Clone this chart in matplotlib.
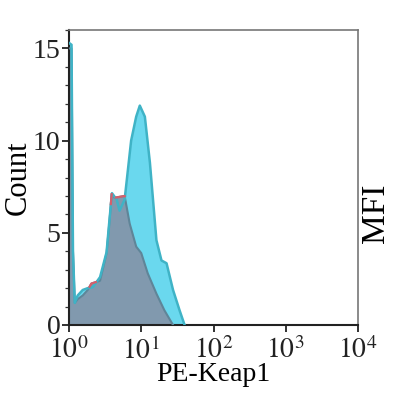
import numpy as np
import matplotlib
matplotlib.use("Agg")
import matplotlib.pyplot as plt
from matplotlib.ticker import LogLocator, NullFormatter, MultipleLocator

# Data (log10 of PE-Keap1 intensity, count)
keap_logx = [0.0, 0.035, 0.055, 0.08, 0.12, 0.19, 0.26, 0.33, 0.43, 0.52, 0.56, 0.595, 0.66, 0.70, 0.77,
             0.86, 0.93, 0.98, 1.05, 1.12, 1.21, 1.28, 1.35, 1.44, 1.53, 1.60]
keap_count = [15.3, 15.2, 4.0, 1.2, 1.6, 1.9, 2.0, 2.05, 2.6, 3.95, 5.7, 7.15, 6.8, 6.2, 6.8,
              10.0, 11.3, 11.9, 11.3, 8.8, 4.6, 3.5, 3.35, 1.9, 0.8, 0.0]

iso_logx = [0.0, 0.035, 0.055, 0.08, 0.12, 0.19, 0.26, 0.31, 0.43, 0.52, 0.56, 0.59, 0.63, 0.70, 0.77,
            0.84, 0.93, 1.00, 1.09, 1.21, 1.32, 1.44]
iso_count = [15.0, 15.0, 4.0, 1.2, 1.4, 1.6, 1.9, 2.25, 2.4, 3.9, 5.6, 7.1, 6.9, 6.95, 7.0,
             5.5, 4.25, 3.9, 2.8, 1.7, 0.8, 0.0]

x_ticks = [1, 10, 100, 1000, 10000]
x_labels = [r"$10^{0}$", r"$10^{1}$", r"$10^{2}$", r"$10^{3}$", r"$10^{4}$"]
y_ticks = [0, 5, 10, 15]

plt.rcParams["font.family"] = ["Liberation Serif", "DejaVu Serif"]
plt.rcParams["mathtext.fontset"] = "stix"

fig = plt.figure(figsize=(3.94, 4.0), dpi=100)
ax = fig.add_axes([69 / 394, 1 - 325 / 400, (358 - 69) / 394, (325 - 30) / 400])

kx = 10 ** np.array(keap_logx)
ix = 10 ** np.array(iso_logx)

ax.fill_between(kx, 0, keap_count, color="#6ad8ee", lw=0, zorder=1)
ax.fill_between(ix, 0, iso_count, color="#8199ae", lw=0, zorder=2)
ax.plot(kx, keap_count, color="#3fb3c6", lw=1.8, zorder=4, solid_joinstyle="round")
ax.plot(ix, iso_count, color="#5f8598", lw=1.5, zorder=3, solid_joinstyle="round")

# red outline of control visible where it rises above the Keap1 curve
grid = np.linspace(0.1, 1.5, 600)
ki = np.interp(grid, keap_logx, keap_count)
ii = np.interp(grid, iso_logx, iso_count)
red = np.where(ii > ki + 0.05, ii, np.nan)
ax.plot(10 ** grid, red, color="#d45f6c", lw=1.6, zorder=5)

ax.set_xscale("log")
ax.set_xlim(1, 10000)
ax.set_ylim(0, 16)
ax.set_xticks(x_ticks)
ax.set_xticklabels(x_labels)
ax.xaxis.set_minor_locator(LogLocator(base=10, subs=np.arange(2, 10)))
ax.xaxis.set_minor_formatter(NullFormatter())
ax.set_yticks(y_ticks)
ax.yaxis.set_minor_locator(MultipleLocator(1))

ax.tick_params(axis="both", which="major", labelsize=20, length=5, width=1.3, direction="out", colors="#222222")
ax.tick_params(axis="both", which="minor", length=3, width=0.9, direction="out", colors="#333333")
ax.tick_params(axis="x", pad=4)
ax.tick_params(axis="y", pad=1)

for s in ["left", "bottom"]:
    ax.spines[s].set_color("#222222")
    ax.spines[s].set_linewidth(1.5)
for s in ["top", "right"]:
    ax.spines[s].set_color("#777777")
    ax.spines[s].set_linewidth(1.2)

ax.set_xlabel("PE-Keap1", fontsize=20, labelpad=-2)
ax.set_ylabel("Count", fontsize=22, labelpad=0)

fig.text(376 / 394, 1 - 213 / 400, "MFI", rotation=90, fontsize=24, ha="center", va="center")

fig.savefig("out.png", dpi=100)
